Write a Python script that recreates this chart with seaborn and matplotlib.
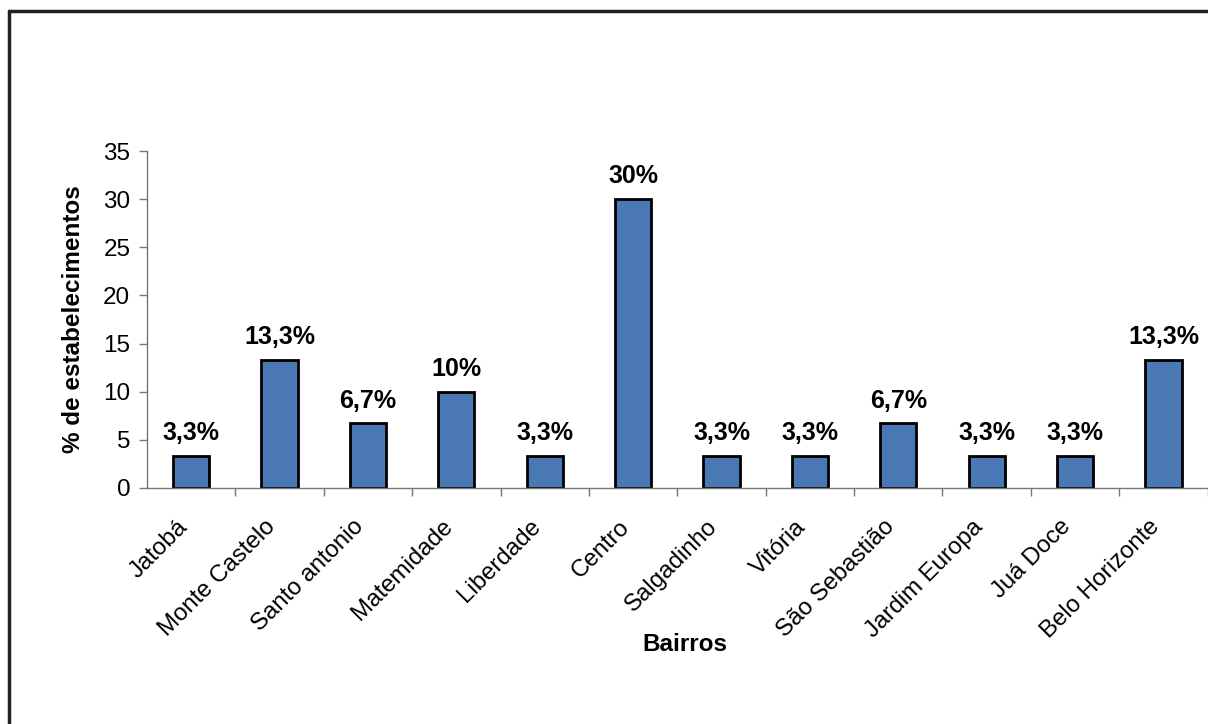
import matplotlib
matplotlib.use("Agg")
import matplotlib.pyplot as plt
from matplotlib.lines import Line2D
from matplotlib.ticker import FixedLocator
from matplotlib.transforms import ScaledTranslation
import seaborn as sns
import pandas as pd

bairros = ["Jatobá", "Monte Castelo", "Santo antonio", "Matemidade", "Liberdade",
           "Centro", "Salgadinho", "Vitória", "São Sebastião", "Jardim Europa",
           "Juá Doce", "Belo Horizonte"]
percentuais = [3.3, 13.3, 6.7, 10, 3.3, 30, 3.3, 3.3, 6.7, 3.3, 3.3, 13.3]
rotulos = ["3,3%", "13,3%", "6,7%", "10%", "3,3%", "30%", "3,3%", "3,3%",
           "6,7%", "3,3%", "3,3%", "13,3%"]
y_ticks = [0, 5, 10, 15, 20, 25, 30, 35]

df = pd.DataFrame({"Bairros": bairros, "pct": percentuais})

sns.set_style("white")
plt.rcParams["font.family"] = ["Liberation Sans", "DejaVu Sans"]
plt.rcParams["text.color"] = "black"
plt.rcParams["xtick.color"] = "black"
plt.rcParams["ytick.color"] = "black"
plt.rcParams["axes.labelcolor"] = "black"

fig = plt.figure(figsize=(12.08, 7.24), dpi=100)
ax = fig.add_axes([0.1217, 0.326, 0.878, 0.4654])

sns.barplot(data=df, x="Bairros", y="pct", color="#4A78B5", width=0.41,
            edgecolor="black", linewidth=2, saturation=1, ax=ax)

ax.set_xlim(-0.5, len(bairros) - 0.5)
ax.set_ylim(0, 35)
ax.set_yticks(y_ticks)
ax.tick_params(axis="y", labelsize=17.5, length=6, width=1, color="#777777",
               labelcolor="black", direction="out", left=True, pad=6)

# category separators on the x axis
ax.xaxis.set_minor_locator(FixedLocator([i + 0.5 for i in range(len(bairros))]))
ax.tick_params(axis="x", which="minor", length=6, width=1, color="#777777",
               direction="out", bottom=True)
ax.tick_params(axis="x", which="major", length=0, pad=20)
ax.set_xticks(range(len(bairros)))
ax.set_xticklabels(bairros, rotation=45, ha="right", rotation_mode="anchor",
                   fontsize=17.3)
shift = ScaledTranslation(-15 / 100, 0, fig.dpi_scale_trans)
for lbl in ax.get_xticklabels():
    lbl.set_transform(lbl.get_transform() + shift)

for side in ["top", "right"]:
    ax.spines[side].set_visible(False)
for side in ["left", "bottom"]:
    ax.spines[side].set_color("#777777")
    ax.spines[side].set_linewidth(1)

for bar, txt in zip(ax.patches, rotulos):
    ax.annotate(txt, (bar.get_x() + bar.get_width() / 2, bar.get_height()),
                xytext=(0, 11.5), textcoords="offset points", ha="center",
                va="baseline", fontsize=18, fontweight="bold")

ax.set_ylabel("% de estabelecimentos", fontsize=17.5, fontweight="bold")
ax.yaxis.set_label_coords(-0.058, 0.5)
ax.set_xlabel("Bairros", fontsize=17.5, fontweight="bold")
ax.xaxis.set_label_coords(0.507, -0.43)

# outer chart frame
fig.add_artist(Line2D([9 / 1208, 1.0], [1 - 11 / 724, 1 - 11 / 724],
                      transform=fig.transFigure, color="#222222", lw=2.5))
fig.add_artist(Line2D([9 / 1208, 9 / 1208], [0, 1 - 11 / 724],
                      transform=fig.transFigure, color="#222222", lw=2.5))

fig.savefig("out.png", dpi=100)
